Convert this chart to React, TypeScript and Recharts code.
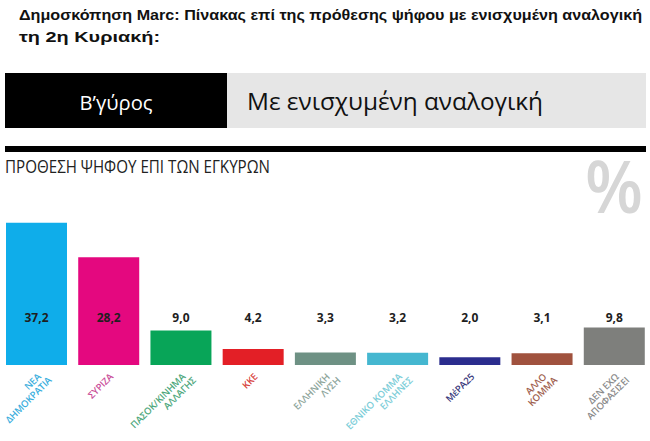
import { BarChart, Bar, XAxis, YAxis, Cell, LabelList } from 'recharts';

// Marc poll, 2nd Sunday, vote intention on valid votes (%)
const parties = [
  ['ΝΕΑ', 'ΔΗΜΟΚΡΑΤΙΑ'],
  ['ΣΥΡΙΖΑ'],
  ['ΠΑΣΟΚ/ΚΙΝΗΜΑ', 'ΑΛΛΑΓΗΣ'],
  ['ΚΚΕ'],
  ['ΕΛΛΗΝΙΚΗ', 'ΛΥΣΗ'],
  ['ΕΘΝΙΚΟ ΚΟΜΜΑ', 'ΕΛΛΗΝΕΣ'],
  ['ΜέΡΑ25'],
  ['ΑΛΛΟ', 'ΚΟΜΜΑ'],
  ['ΔΕΝ ΕΧΩ', 'ΑΠΟΦΑΣΙΣΕΙ'],
];
const values = [37.2, 28.2, 9.0, 4.2, 3.3, 3.2, 2.0, 3.1, 9.8];
const barColors = ['#0FADEA', '#E4087F', '#08A558', '#E31F26', '#6E9184', '#45B7D0', '#2B2D8E', '#A0523E', '#7E7F7C'];
const labelColors = ['#3AAEDD', '#C94E98', '#4DA77C', '#D8443D', '#8EA59B', '#7BCDD8', '#3A3A7C', '#A0604E', '#8A8A8A'];

const data = values.map((v, i) => ({ name: parties[i].join(' '), value: v }));

const fmt = (v: number) => v.toFixed(1).replace('.', ',');

function PartyTick(props: any) {
  const { x, payload } = props;
  const i = payload.index;
  const lines = parties[i];
  return (
    <g transform={`translate(${x + 3},${375}) rotate(-45)`}>
      {lines.map((l, k) => (
        <text
          key={k}
          x={k * 5}
          y={3.5 + k * 10}
          textAnchor="end"
          fontFamily="'Open Sans', sans-serif"
          fontWeight={600}
          fontSize={9.5}
          letterSpacing={-0.15}
          fill={labelColors[i]}
        >
          {l}
        </text>
      ))}
    </g>
  );
}

function ValueLabel(props: any) {
  const { x, y, width, height, value } = props;
  return (
    <text
      x={x + width / 2}
      y={y + height - 43}
      textAnchor="middle"
      fontFamily="'Open Sans', sans-serif"
      fontWeight={700}
      fontSize={12}
      fill="#1e1e1e"
    >
      {fmt(value)}
    </text>
  );
}

export default function App() {
  return (
    <div style={{ position: 'absolute', left: 0, top: 0, width: 650, height: 441, background: '#fff' }}>
      <BarChart width={650} height={441} data={data} margin={{ top: 212, right: 0, bottom: 0, left: 0 }} barSize={61}>
        <XAxis dataKey="name" height={76} axisLine={false} tickLine={false} interval={0} tick={<PartyTick />} />
        <YAxis hide domain={[0, 40]} />
        <Bar dataKey="value" isAnimationActive={false}>
          {data.map((d, i) => (
            <Cell key={d.name} fill={barColors[i]} />
          ))}
          <LabelList dataKey="value" content={<ValueLabel />} />
        </Bar>
      </BarChart>
      <svg width={650} height={260} style={{ position: 'absolute', left: 0, top: 0, pointerEvents: 'none' }}>
        <text x={19} y={20} fontFamily="'Liberation Sans', Arial, sans-serif" fontWeight={700} fontSize={15} fill="#111" textLength={623} lengthAdjust="spacingAndGlyphs">
          Δημοσκόπηση Marc: Πίνακας επί της πρόθεσης ψήφου με ενισχυμένη αναλογική
        </text>
        <text x={19} y={42} fontFamily="'Liberation Sans', Arial, sans-serif" fontWeight={700} fontSize={15} fill="#111" textLength={141} lengthAdjust="spacingAndGlyphs">
          τη 2η Κυριακή:
        </text>
        <rect x={5} y={73} width={222} height={55} fill="#000" />
        <rect x={227} y={73} width={419} height={55} fill="#e6e6e6" />
        <text x={116} y={110} textAnchor="middle" fontFamily="'Open Sans', sans-serif" fontSize={20} fill="#fff" textLength={73} lengthAdjust="spacingAndGlyphs">
          Β’γύρος
        </text>
        <text x={247} y={110} fontFamily="'Open Sans', sans-serif" fontSize={24} fill="#111" textLength={296} lengthAdjust="spacingAndGlyphs">
          Με ενισχυμένη αναλογική
        </text>
        <rect x={5} y={146} width={641} height={6} fill="#000" />
        <text x={5} y={173} fontFamily="'Open Sans', sans-serif" fontSize={19} fill="#222" textLength={265} lengthAdjust="spacingAndGlyphs">
          ΠΡΟΘΕΣΗ ΨΗΦΟΥ ΕΠΙ ΤΩΝ ΕΓΚΥΡΩΝ
        </text>
        <text x={585} y={213} fontFamily="'Open Sans', sans-serif" fontWeight={600} fontSize={72} fill="#d6d6d6" textLength={58} lengthAdjust="spacingAndGlyphs">
          %
        </text>
      </svg>
    </div>
  );
}
